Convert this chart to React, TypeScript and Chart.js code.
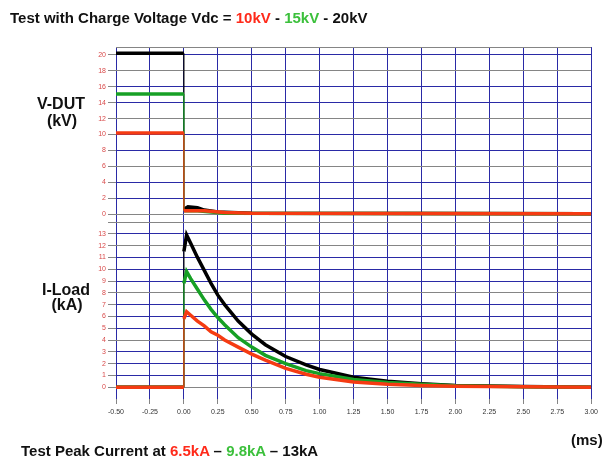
import React, { useEffect, useRef } from 'react';
import { Chart, registerables } from 'chart.js';

Chart.register(...registerables);

// ---- axes ----
const X_TICKS = [-0.5, -0.25, 0, 0.25, 0.5, 0.75, 1.0, 1.25, 1.5, 1.75, 2.0, 2.25, 2.5, 2.75, 3.0];
const V_TICKS = [-1, 0, 2, 4, 6, 8, 10, 12, 14, 16, 18, 20, 21];
const V_LABELS = [0, 2, 4, 6, 8, 10, 12, 14, 16, 18, 20];
const V_GRAY = [-1, 0, 6, 12, 18, 21];
const I_TICKS = [0, 1, 2, 3, 4, 5, 6, 7, 8, 9, 10, 11, 12, 13, 14];
const I_LABELS = [0, 1, 2, 3, 4, 5, 6, 7, 8, 9, 10, 11, 12, 13];
const I_GRAY = [0, 4, 8, 12, 14];

// ---- V-DUT traces (kV) ----
const vBlackT = [-0.5, 0, 0, 0.03, 0.1, 0.15, 0.25, 0.5, 3.0];
const vBlackV = [20.2, 20.2, 0.6, 0.9, 0.8, 0.5, 0.25, 0.1, 0.05];
const vGreenT = [-0.5, 0, 0, 0.1, 0.3, 3.0];
const vGreenV = [15.1, 15.1, 0.4, 0.4, 0.1, 0.05];
const vRedT = [-0.5, 0, 0, 0.15, 0.3, 0.5, 3.0];
const vRedV = [10.2, 10.2, 0.4, 0.4, 0.2, 0.1, 0.05];

// ---- I-Load traces (kA) ----
const iBlackT = [-0.5, 0, 0, 0.02, 0.05, 0.1, 0.15, 0.2, 0.25, 0.3, 0.4, 0.5, 0.6, 0.75, 0.9, 1.0, 1.25, 1.5, 1.75, 2.0, 2.5, 3.0];
const iBlackV = [0, 0, 11.5, 12.9, 12.2, 11.0, 9.9, 8.8, 7.8, 7.0, 5.6, 4.5, 3.6, 2.6, 1.9, 1.5, 0.85, 0.5, 0.3, 0.15, 0.05, 0];
const iGreenT = [-0.5, 0, 0, 0.02, 0.05, 0.1, 0.15, 0.2, 0.25, 0.3, 0.4, 0.5, 0.6, 0.75, 0.9, 1.0, 1.25, 1.5, 1.75, 2.0, 2.5, 3.0];
const iGreenV = [0, 0, 8.8, 9.8, 9.2, 8.3, 7.4, 6.6, 5.9, 5.3, 4.2, 3.4, 2.7, 2.0, 1.4, 1.15, 0.65, 0.4, 0.25, 0.12, 0.04, 0];
const iRedT = [-0.5, 0, 0, 0.02, 0.05, 0.1, 0.15, 0.2, 0.25, 0.3, 0.4, 0.5, 0.6, 0.75, 0.9, 1.0, 1.25, 1.5, 1.75, 2.0, 2.5, 3.0];
const iRedV = [0, 0, 5.8, 6.4, 6.1, 5.6, 5.2, 4.7, 4.4, 4.0, 3.4, 2.8, 2.3, 1.6, 1.1, 0.85, 0.45, 0.25, 0.15, 0.08, 0.03, 0];

const BLUE = '#2a2aa6';
const GRAY = '#858585';
const C_BLACK = '#000000';
const C_GREEN = '#17a025';
const C_RED = '#f53b12';
const FONT = "'Liberation Sans', Arial, sans-serif";

export default function App() {
  const ref = useRef<HTMLCanvasElement>(null);

  useEffect(() => {
    const pts = (t: number[], v: number[]) => t.map((x, i) => ({ x, y: v[i] }));
    const ds = (label: string, t: number[], v: number[], color: string, axis: string, order: number) => ({
      label,
      data: pts(t, v),
      borderColor: color,
      backgroundColor: color,
      borderWidth: 3.5,
      pointRadius: 0,
      fill: false,
      tension: 0,
      yAxisID: axis,
      order,
      segment: {
        borderWidth: (ctx: any) => (ctx.p0.parsed.x === ctx.p1.parsed.x ? 1.2 : 3.5),
      },
    });

    const chart = new Chart(ref.current as HTMLCanvasElement, {
      type: 'line',
      data: {
        datasets: [
          ds('V 20kV', vBlackT, vBlackV, C_BLACK, 'yV', 3),
          ds('V 15kV', vGreenT, vGreenV, C_GREEN, 'yV', 2),
          ds('V 10kV', vRedT, vRedV, C_RED, 'yV', 1),
          ds('I 13kA', iBlackT, iBlackV, C_BLACK, 'yI', 3),
          ds('I 9.8kA', iGreenT, iGreenV, C_GREEN, 'yI', 2),
          ds('I 6.5kA', iRedT, iRedV, C_RED, 'yI', 1),
        ] as any,
      },
      options: {
        animation: false,
        responsive: false,
        devicePixelRatio: 1,
        layout: { padding: { left: 0, right: 10, top: 47, bottom: 37 } },
        plugins: { legend: { display: false }, tooltip: { enabled: false } },
        scales: {
          x: {
            type: 'linear',
            min: -0.5,
            max: 3,
            afterBuildTicks: (s: any) => {
              s.ticks = X_TICKS.map((value) => ({ value }));
            },
            afterFit: (s: any) => {
              s.height = 30;
            },
            border: { display: false },
            grid: { color: BLUE, lineWidth: 1, tickColor: GRAY, tickLength: 5 },
            ticks: {
              autoSkip: false,
              maxRotation: 0,
              padding: 4,
              color: '#333333',
              font: { family: FONT, size: 7 },
              callback: (v: any) => Number(v).toFixed(2),
            },
          },
          yI: {
            type: 'linear',
            position: 'left',
            stack: 'panels',
            stackWeight: 177,
            min: -1,
            max: 14,
            afterBuildTicks: (s: any) => {
              s.ticks = I_TICKS.map((value) => ({ value }));
            },
            afterFit: (s: any) => {
              s.width = 116;
            },
            border: { display: false },
            grid: {
              color: (c: any) => (I_GRAY.includes(c.tick?.value) ? GRAY : BLUE),
              tickColor: (c: any) => (c.tick?.value === 14 ? 'rgba(0,0,0,0)' : GRAY),
              tickLength: 8,
              lineWidth: 1,
            },
            ticks: {
              autoSkip: false,
              padding: 2,
              color: '#d84a4a',
              font: { family: FONT, size: 7 },
              callback: (v: any) => (I_LABELS.includes(Number(v)) ? String(v) : ''),
            },
          },
          yV: {
            type: 'linear',
            position: 'left',
            stack: 'panels',
            stackWeight: 175,
            min: -1,
            max: 21,
            afterBuildTicks: (s: any) => {
              s.ticks = V_TICKS.map((value) => ({ value }));
            },
            afterFit: (s: any) => {
              s.width = 116;
            },
            border: { display: false },
            grid: {
              color: (c: any) => (V_GRAY.includes(c.tick?.value) ? GRAY : BLUE),
              tickColor: (c: any) => (c.tick?.value === 21 ? 'rgba(0,0,0,0)' : GRAY),
              tickLength: 8,
              lineWidth: 1,
            },
            ticks: {
              autoSkip: false,
              padding: 2,
              color: '#d84a4a',
              font: { family: FONT, size: 7 },
              callback: (v: any) => (V_LABELS.includes(Number(v)) ? String(v) : ''),
            },
          },
        },
      } as any,
    });
    return () => chart.destroy();
  }, []);

  const big: React.CSSProperties = {
    position: 'absolute',
    fontFamily: FONT,
    fontWeight: 'bold',
    fontSize: 15,
    lineHeight: '15px',
    whiteSpace: 'nowrap',
    color: '#111',
  };
  const side: React.CSSProperties = {
    ...big,
    fontSize: 16,
    lineHeight: '16px',
    width: 100,
    textAlign: 'center',
  };

  return (
    <div style={{ position: 'fixed', left: 0, top: 0, width: 602, height: 466, background: '#fff', overflow: 'hidden' }}>
      <canvas ref={ref} width={602} height={466} style={{ position: 'absolute', left: 0, top: 0, width: 602, height: 466 }} />
      <div style={{ ...big, left: 10, top: 10 }}>
        Test with Charge Voltage Vdc = <span style={{ color: '#ff2a1a' }}>10kV</span> -{' '}
        <span style={{ color: '#3cc03c' }}>15kV</span> - 20kV
      </div>
      <div style={{ ...side, left: 11, top: 96 }}>V-DUT</div>
      <div style={{ ...side, left: 12, top: 113 }}>(kV)</div>
      <div style={{ ...side, left: 16, top: 282 }}>I-Load</div>
      <div style={{ ...side, left: 17, top: 297 }}>(kA)</div>
      <div style={{ ...big, left: 571, top: 432 }}>(ms)</div>
      <div style={{ ...big, left: 21, top: 443 }}>
        Test Peak Current at <span style={{ color: '#ff2a1a' }}>6.5kA</span> –{' '}
        <span style={{ color: '#3cc03c' }}>9.8kA</span> – 13kA
      </div>
    </div>
  );
}
